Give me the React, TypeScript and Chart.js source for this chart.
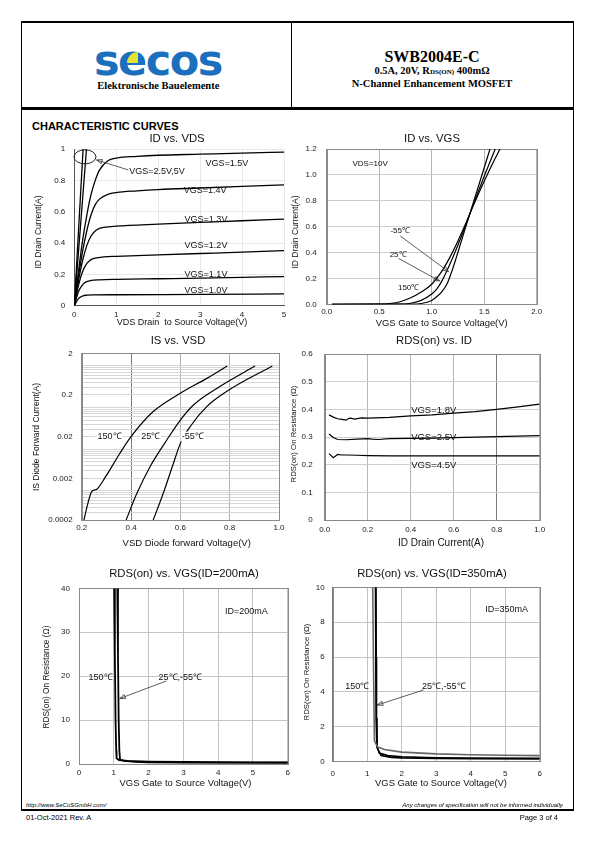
import React, { useEffect, useRef } from "react";
import { Chart, registerables } from "chart.js";

Chart.register(...registerables);

const SANS = '"Liberation Sans", Arial, Helvetica, sans-serif';
const SERIF = '"Liberation Serif", "Times New Roman", Times, serif';
Chart.defaults.font.family = SANS;

type Pt = [number, number];

/* ---------- 1. ID vs VDS ---------- */
const VDS_TICKS = [0, 1, 2, 3, 4, 5];
const ID_A_TICKS = [0, 0.2, 0.4, 0.6, 0.8, 1];
const ID_VGS_5V: Pt[] = [[0, 0], [0.21, 1]];
const ID_VGS_2V5: Pt[] = [[0, 0], [0.29, 1]];
const ID_VGS_1V5: Pt[] = [[0, 0], [0.1, 0.22], [0.2, 0.42], [0.3, 0.58], [0.4, 0.71], [0.5, 0.8], [0.6, 0.865], [0.8, 0.925], [1, 0.942], [1.5, 0.953], [2, 0.96], [3, 0.967], [4, 0.974], [5, 0.98]];
const ID_VGS_1V4: Pt[] = [[0, 0], [0.1, 0.19], [0.2, 0.35], [0.3, 0.48], [0.4, 0.58], [0.5, 0.645], [0.6, 0.68], [0.8, 0.71], [1, 0.722], [1.5, 0.733], [2, 0.741], [3, 0.751], [4, 0.761], [5, 0.771]];
const ID_VGS_1V3: Pt[] = [[0, 0], [0.1, 0.16], [0.2, 0.29], [0.3, 0.385], [0.4, 0.445], [0.5, 0.477], [0.6, 0.493], [0.8, 0.503], [1, 0.508], [2, 0.521], [3, 0.532], [4, 0.542], [5, 0.553]];
const ID_VGS_1V2: Pt[] = [[0, 0], [0.1, 0.13], [0.2, 0.22], [0.3, 0.27], [0.4, 0.294], [0.5, 0.304], [0.7, 0.311], [1, 0.315], [2, 0.324], [3, 0.333], [4, 0.342], [5, 0.352]];
const ID_VGS_1V1: Pt[] = [[0, 0], [0.1, 0.09], [0.2, 0.135], [0.3, 0.154], [0.4, 0.161], [0.6, 0.165], [1, 0.168], [2, 0.172], [3, 0.176], [4, 0.181], [5, 0.186]];
const ID_VGS_1V0: Pt[] = [[0, 0], [0.1, 0.045], [0.2, 0.062], [0.3, 0.067], [0.5, 0.069], [1, 0.07], [3, 0.072], [5, 0.075]];
const ID_VDS_LABELS = [
  { x: 3.64, y: 0.91, t: "VGS=1.5V" },
  { x: 1.31, y: 0.855, t: "VGS=2.5V,5V", align: "left" },
  { x: 3.12, y: 0.732, t: "VGS=1.4V" },
  { x: 3.14, y: 0.553, t: "VGS=1.3V" },
  { x: 3.14, y: 0.381, t: "VGS=1.2V" },
  { x: 3.14, y: 0.202, t: "VGS=1.1V" },
  { x: 3.14, y: 0.1, t: "VGS=1.0V" },
];

/* ---------- 2. ID vs VGS ---------- */
const VGS2_TICKS = [0, 0.5, 1, 1.5, 2];
const ID2_TICKS = [0, 0.2, 0.4, 0.6, 0.8, 1.0, 1.2];
const IDVGS_M55: Pt[] = [[0.05, 0], [0.8, 0.001], [0.9, 0.006], [1.0, 0.03], [1.05, 0.06], [1.1, 0.1], [1.15, 0.165], [1.2, 0.275], [1.3, 0.535], [1.4, 0.795], [1.5, 1.055], [1.555, 1.2]];
const IDVGS_25: Pt[] = [[0.05, 0], [0.7, 0.001], [0.8, 0.008], [0.9, 0.03], [1.0, 0.08], [1.05, 0.12], [1.1, 0.185], [1.2, 0.36], [1.3, 0.56], [1.4, 0.78], [1.5, 0.99], [1.605, 1.2]];
const IDVGS_150: Pt[] = [[0.05, 0], [0.5, 0.001], [0.6, 0.006], [0.7, 0.02], [0.8, 0.05], [0.9, 0.095], [1.0, 0.155], [1.1, 0.26], [1.2, 0.405], [1.3, 0.58], [1.4, 0.77], [1.5, 0.95], [1.6, 1.12], [1.65, 1.2]];
const IDVGS_LABELS = [
  { x: 0.414, y: 1.082, t: "VDS=10V" },
  { x: 0.7, y: 0.566, t: "-55℃" },
  { x: 0.68, y: 0.381, t: "25℃" },
  { x: 0.78, y: 0.124, t: "150℃" },
];

/* ---------- 3. IS vs VSD ---------- */
const VSD_TICKS = [0.2, 0.4, 0.6, 0.8, 1.0];
const IS_MAJOR = [0.0002, 0.002, 0.02, 0.2, 2];
const IS_LABELS = ["0.0002", "0.002", "0.02", "0.2", "2"];
const IS_150: Pt[] = [[0.209, 0.0002], [0.225, 0.0005], [0.24, 0.00095], [0.261, 0.0011], [0.295, 0.0021], [0.355, 0.008], [0.4, 0.02], [0.49, 0.08], [0.6, 0.22], [0.707, 0.5], [0.79, 0.99]];
const IS_25: Pt[] = [[0.38, 0.0002], [0.423, 0.00085], [0.477, 0.0038], [0.545, 0.0166], [0.6, 0.05], [0.653, 0.115], [0.76, 0.32], [0.903, 0.99]];
const IS_M55: Pt[] = [[0.49, 0.0002], [0.53, 0.00085], [0.572, 0.0046], [0.6, 0.0138], [0.64, 0.035], [0.707, 0.105], [0.8, 0.27], [0.973, 0.99]];
const IS_TEMP_LABELS = [
  { x: 0.313, y: 0.02, t: "150℃", bg: true },
  { x: 0.48, y: 0.02, t: "25℃", bg: true },
  { x: 0.65, y: 0.02, t: "-55℃", bg: true },
];

/* ---------- 4. RDS(on) vs ID ---------- */
const ID4_TICKS = [0, 0.2, 0.4, 0.6, 0.8, 1.0];
const RDS4_TICKS = [0, 0.1, 0.2, 0.3, 0.4, 0.5, 0.6];
const RDS_VGS18: Pt[] = [[0.02, 0.38], [0.04, 0.372], [0.06, 0.366], [0.08, 0.364], [0.1, 0.361], [0.11, 0.367], [0.12, 0.368], [0.14, 0.365], [0.17, 0.369], [0.2, 0.368], [0.3, 0.371], [0.4, 0.376], [0.5, 0.38], [0.6, 0.386], [0.7, 0.392], [0.8, 0.4], [0.9, 0.409], [1.0, 0.419]];
const RDS_VGS25: Pt[] = [[0.02, 0.311], [0.04, 0.298], [0.06, 0.291], [0.1, 0.29], [0.15, 0.292], [0.2, 0.294], [0.22, 0.292], [0.25, 0.291], [0.3, 0.294], [0.4, 0.295], [0.5, 0.296], [0.6, 0.298], [0.8, 0.301], [1.0, 0.305]];
const RDS_VGS45: Pt[] = [[0.02, 0.24], [0.04, 0.225], [0.06, 0.237], [0.08, 0.235], [0.1, 0.235], [0.15, 0.234], [0.2, 0.233], [0.3, 0.232], [0.4, 0.232], [0.6, 0.232], [0.8, 0.232], [1.0, 0.232]];
const RDS_ID_LABELS = [
  { x: 0.507, y: 0.3975, t: "VGS=1.8V" },
  { x: 0.507, y: 0.299, t: "VGS=2.5V" },
  { x: 0.507, y: 0.199, t: "VGS=4.5V" },
];

/* ---------- 5. RDS(on) vs VGS (ID=200mA) ---------- */
const VGS56_TICKS = [0, 1, 2, 3, 4, 5, 6];
const RDS5_TICKS = [0, 10, 20, 30, 40];
const RDS200_150: Pt[] = [[1.01, 40], [1.03, 25], [1.05, 10], [1.07, 3], [1.08, 1.3], [1.15, 0.9], [1.4, 0.7], [2, 0.55], [3, 0.45], [4, 0.4], [5, 0.38], [6, 0.36]];
const RDS200_25: Pt[] = [[1.1, 40], [1.12, 25], [1.14, 10], [1.16, 3], [1.18, 1.0], [1.3, 0.7], [1.6, 0.5], [2, 0.4], [3, 0.33], [4, 0.3], [6, 0.28]];
const RDS200_LABELS = [
  { x: 0.62, y: 19.7, t: "150℃" },
  { x: 2.91, y: 19.7, t: "25℃,-55℃" },
  { x: 4.81, y: 34.8, t: "ID=200mA" },
];

/* ---------- 6. RDS(on) vs VGS (ID=350mA) ---------- */
const RDS6_TICKS = [0, 2, 4, 6, 8, 10];
const RDS350_150: Pt[] = [[1.16, 10], [1.18, 6], [1.2, 2.5], [1.21, 1.2], [1.3, 0.85], [1.5, 0.7], [2, 0.55], [3, 0.45], [4, 0.4], [5, 0.37], [6, 0.35]];
const RDS350_25: Pt[] = [[1.24, 10], [1.25, 6], [1.26, 2.5], [1.28, 0.9], [1.35, 0.5], [1.6, 0.35], [2, 0.28], [3, 0.23], [4, 0.21], [6, 0.2]];
const RDS350_M55: Pt[] = [[1.25, 10], [1.26, 6], [1.27, 2.5], [1.29, 0.8], [1.4, 0.35], [1.7, 0.25], [2, 0.22], [3, 0.18], [4, 0.17], [6, 0.16]];
const RDS350_LABELS = [
  { x: 0.713, y: 4.3, t: "150℃" },
  { x: 3.22, y: 4.3, t: "25℃,-55℃" },
  { x: 5.04, y: 8.75, t: "ID=350mA" },
];

/* ---------- chart machinery ---------- */
type AxisSpec = {
  min: number;
  max: number;
  ticks: number[];
  fmt: (v: number) => string;
  log?: boolean;
  grid: (v: number) => string;
  pad: number;
  border: string;
  size?: number;
};
type SeriesSpec = { data: Pt[]; color?: string; width?: number; smooth?: boolean };
type TextAnn = { x: number; y: number; t: string; align?: string; bg?: boolean };
type Spec = {
  box: [number, number, number, number];
  area: [number, number, number, number];
  x: AxisSpec;
  y: AxisSpec;
  series: SeriesSpec[];
  title: { t: string; cx: number; cy: number };
  xTitle: { t: string; cx: number; cy: number; size: number };
  yTitle: { t: string; cx: number; cy: number; size: number };
  texts: TextAnn[];
  textSize: number;
  arrows?: { from: Pt; to: Pt }[];
  ellipse?: { c: Pt; rx: number; ry: number };
  frame?: string;
};

const fix1 = (v: number) => v.toFixed(1);
const plain = (v: number) => String(Math.round(v * 1000) / 1000);
const zeroFix1 = (v: number) => (Math.abs(v) < 1e-9 ? "0" : Math.abs(v - 1) < 1e-9 ? "1" : v.toFixed(1));
const near = (a: number, b: number) => Math.abs(a - b) < 1e-9;

function drawArrow(ctx: CanvasRenderingContext2D, x1: number, y1: number, x2: number, y2: number) {
  ctx.beginPath();
  ctx.moveTo(x1, y1);
  ctx.lineTo(x2, y2);
  ctx.stroke();
  const a = Math.atan2(y2 - y1, x2 - x1);
  const L = 6, w = 0.38;
  ctx.beginPath();
  ctx.moveTo(x2 - L * Math.cos(a - w), y2 - L * Math.sin(a - w));
  ctx.lineTo(x2, y2);
  ctx.lineTo(x2 - L * Math.cos(a + w), y2 - L * Math.sin(a + w));
  ctx.closePath();
  ctx.stroke();
}

function overlayPlugin(spec: Spec) {
  return {
    id: "overlay",
    beforeDatasetsDraw(chart: any) {
      if (!spec.frame) return;
      const { left, top, right, bottom } = chart.chartArea;
      const ctx = chart.ctx;
      ctx.save();
      ctx.strokeStyle = spec.frame;
      ctx.lineWidth = 1;
      ctx.strokeRect(Math.round(left) + 0.5, Math.round(top) + 0.5, Math.round(right - left), Math.round(bottom - top));
      ctx.restore();
    },
    afterDatasetsDraw(chart: any) {
      const ctx: CanvasRenderingContext2D = chart.ctx;
      const xs = chart.scales.x, ys = chart.scales.y;
      const ox = spec.box[0], oy = spec.box[1];
      ctx.save();
      ctx.fillStyle = "#111";
      ctx.textBaseline = "middle";
      ctx.font = `11.3px ${SANS}`;
      ctx.textAlign = "center";
      ctx.fillText(spec.title.t, spec.title.cx - ox, spec.title.cy - oy);
      ctx.font = `${spec.xTitle.size}px ${SANS}`;
      ctx.fillText(spec.xTitle.t, spec.xTitle.cx - ox, spec.xTitle.cy - oy);
      ctx.save();
      ctx.font = `${spec.yTitle.size}px ${SANS}`;
      ctx.translate(spec.yTitle.cx - ox, spec.yTitle.cy - oy);
      ctx.rotate(-Math.PI / 2);
      ctx.fillText(spec.yTitle.t, 0, 0);
      ctx.restore();
      ctx.font = `${spec.textSize}px ${SANS}`;
      for (const t of spec.texts) {
        const px = xs.getPixelForValue(t.x), py = ys.getPixelForValue(t.y);
        const align = (t.align || "center") as CanvasTextAlign;
        ctx.textAlign = align;
        if (t.bg) {
          const tw = ctx.measureText(t.t).width;
          const lx = align === "left" ? px : px - tw / 2;
          ctx.fillStyle = "#fff";
          ctx.fillRect(lx - 1, py - spec.textSize * 0.55, tw + 2, spec.textSize * 1.1);
          ctx.fillStyle = "#111";
        }
        ctx.fillText(t.t, px, py);
      }
      ctx.strokeStyle = "#333";
      ctx.lineWidth = 0.8;
      for (const a of spec.arrows || []) {
        drawArrow(ctx, xs.getPixelForValue(a.from[0]), ys.getPixelForValue(a.from[1]), xs.getPixelForValue(a.to[0]), ys.getPixelForValue(a.to[1]));
      }
      if (spec.ellipse) {
        const e = spec.ellipse;
        ctx.strokeStyle = "#222";
        ctx.lineWidth = 1;
        ctx.beginPath();
        ctx.ellipse(xs.getPixelForValue(e.c[0]), ys.getPixelForValue(e.c[1]), e.rx, e.ry, 0, 0, Math.PI * 2);
        ctx.stroke();
      }
      ctx.restore();
    },
  };
}

function buildConfig(spec: Spec): any {
  const [bl, bt, bw, bh] = spec.box;
  const [al, at, ar, ab] = spec.area;
  const yW = al - bl;
  const padTop = at - bt;
  const padRight = bl + bw - ar;
  const xH = bt + bh - ab;
  const axis = (a: AxisSpec, isX: boolean) => ({
    type: a.log ? "logarithmic" : "linear",
    min: a.min,
    max: a.max,
    afterBuildTicks: (sc: any) => {
      sc.ticks = a.ticks.map((v) => ({ value: v }));
    },
    afterFit: (sc: any) => {
      if (isX) sc.height = xH;
      else sc.width = yW;
    },
    ticks: {
      autoSkip: false,
      maxRotation: 0,
      minRotation: 0,
      padding: a.pad,
      color: "#1a1a1a",
      font: { size: a.size || 8, family: SANS },
      callback: (v: number) => a.fmt(v),
    },
    grid: {
      drawTicks: false,
      lineWidth: 1,
      color: (ctx: any) => a.grid(ctx.tick ? ctx.tick.value : NaN),
    },
    border: { display: true, color: a.border, width: 1 },
  });
  return {
    type: "line",
    data: {
      datasets: spec.series.map((s) => ({
        data: s.data.map(([x, y]) => ({ x, y })),
        borderColor: s.color || "#000",
        backgroundColor: s.color || "#000",
        borderWidth: s.width || 1.2,
        pointRadius: 0,
        fill: false,
        tension: 0,
        cubicInterpolationMode: s.smooth ? "monotone" : "default",
      })),
    },
    options: {
      responsive: false,
      animation: false,
      events: [],
      layout: { padding: { left: 0, top: padTop, right: padRight, bottom: 0 } },
      plugins: { legend: { display: false }, tooltip: { enabled: false }, title: { display: false } },
      scales: { x: axis(spec.x, true), y: axis(spec.y, false) },
    },
    plugins: [overlayPlugin(spec)],
  };
}

function ChartBox({ spec }: { spec: Spec }) {
  const ref = useRef<HTMLCanvasElement>(null);
  useEffect(() => {
    const chart = new Chart(ref.current as HTMLCanvasElement, buildConfig(spec));
    return () => chart.destroy();
  }, []);
  const [l, t, w, h] = spec.box;
  return <canvas ref={ref} width={w} height={h} style={{ position: "absolute", left: l, top: t, width: w, height: h }} />;
}

/* ---------- chart specs ---------- */
const IS_GRID: number[] = [];
for (let e = -4; e <= 0; e++) {
  for (let k = 1; k <= 9; k++) {
    const v = +(k * Math.pow(10, e)).toPrecision(3);
    if (v >= 0.0002 - 1e-12 && v <= 2 + 1e-9) IS_GRID.push(v);
  }
}

const SPEC1: Spec = {
  box: [22, 128, 270, 202],
  area: [74.3, 149, 284, 305.7],
  x: { min: 0, max: 5, ticks: VDS_TICKS, fmt: plain, grid: () => "#e8e8e8", pad: 4, border: "#555" },
  y: { min: 0, max: 1, ticks: ID_A_TICKS, fmt: zeroFix1, grid: () => "#e8e8e8", pad: 9, border: "#555" },
  series: [ID_VGS_5V, ID_VGS_2V5, ID_VGS_1V5, ID_VGS_1V4, ID_VGS_1V3, ID_VGS_1V2, ID_VGS_1V1, ID_VGS_1V0].map((d) => ({ data: d, smooth: true, width: 1.3 })),
  title: { t: "ID vs. VDS", cx: 177, cy: 138.5 },
  xTitle: { t: "VDS Drain  to Source Voltage(V)", cx: 182, cy: 323, size: 9 },
  yTitle: { t: "ID Drain Current(A)", cx: 39, cy: 232, size: 8.5 },
  texts: ID_VDS_LABELS,
  textSize: 9,
  arrows: [{ from: [1.29, 0.866], to: [0.53, 0.93] }],
  ellipse: { c: [0.255, 0.95], rx: 11, ry: 7 },
};

const SPEC2: Spec = {
  box: [290, 128, 283, 202],
  area: [326.7, 149, 536.7, 304.3],
  x: { min: 0, max: 2, ticks: VGS2_TICKS, fmt: fix1, grid: () => "#b4b4b4", pad: 3, border: "#8a8a8a" },
  y: { min: 0, max: 1.2, ticks: ID2_TICKS, fmt: fix1, grid: () => "#cccccc", pad: 10, border: "#8a8a8a" },
  series: [IDVGS_M55, IDVGS_25, IDVGS_150].map((d) => ({ data: d, smooth: true, width: 1.2 })),
  title: { t: "ID vs. VGS", cx: 432, cy: 138.5 },
  xTitle: { t: "VGS Gate to Source Voltage(V)", cx: 441.7, cy: 323, size: 9.4 },
  yTitle: { t: "ID Drain Current(A)", cx: 296, cy: 232, size: 8.5 },
  texts: IDVGS_LABELS,
  textSize: 8,
  arrows: [
    { from: [0.7, 0.528], to: [1.161, 0.252] },
    { from: [0.684, 0.355], to: [1.075, 0.18] },
  ],
  frame: "#8a8a8a",
};

const SPEC3: Spec = {
  box: [22, 330, 270, 222],
  area: [81.7, 353.3, 279, 520],
  x: { min: 0.2, max: 1.0, ticks: VSD_TICKS, fmt: fix1, grid: (v) => (near(v, 0.4) ? "#7a7a7a" : "#b0b0b0"), pad: 3, border: "#8a8a8a" },
  y: {
    min: 0.0002,
    max: 2,
    log: true,
    ticks: IS_GRID,
    fmt: (v) => {
      const i = IS_MAJOR.findIndex((m) => Math.abs(m - v) / m < 1e-6);
      return i >= 0 ? IS_LABELS[i] : "";
    },
    grid: () => "#d6d6d6",
    pad: 9,
    border: "#8a8a8a",
  },
  series: [IS_150, IS_25, IS_M55].map((d) => ({ data: d, smooth: true, width: 1.2 })),
  title: { t: "IS vs. VSD", cx: 178, cy: 341 },
  xTitle: { t: "VSD Diode forward Voltage(V)", cx: 186.7, cy: 543.3, size: 9.5 },
  yTitle: { t: "IS Diode Forward Current(A)", cx: 37, cy: 437, size: 8.5 },
  texts: IS_TEMP_LABELS,
  textSize: 9,
  frame: "#8a8a8a",
};

const SPEC4: Spec = {
  box: [290, 330, 283, 222],
  area: [324.7, 354, 539.7, 520],
  x: { min: 0, max: 1, ticks: ID4_TICKS, fmt: fix1, grid: (v) => (near(v, 0.8) ? "#7a7a7a" : "#b8b8b8"), pad: 5, border: "#8a8a8a" },
  y: { min: 0, max: 0.6, ticks: RDS4_TICKS, fmt: zeroFix1, grid: () => "#cfcfcf", pad: 12, border: "#8a8a8a" },
  series: [RDS_VGS18, RDS_VGS25, RDS_VGS45].map((d) => ({ data: d, width: 1.2 })),
  title: { t: "RDS(on) vs. ID", cx: 434, cy: 341 },
  xTitle: { t: "ID Drain Current(A)", cx: 441, cy: 543, size: 10 },
  yTitle: { t: "RDS(on) On Resistance (Ω)", cx: 294, cy: 434, size: 7.8 },
  texts: RDS_ID_LABELS,
  textSize: 9.5,
  frame: "#8a8a8a",
};

const SPEC5: Spec = {
  box: [22, 560, 272, 235],
  area: [79, 588.3, 288.7, 764],
  x: { min: 0, max: 6, ticks: VGS56_TICKS, fmt: plain, grid: () => "#c4c4c4", pad: 4, border: "#777" },
  y: { min: 0, max: 40, ticks: RDS5_TICKS, fmt: plain, grid: () => "#c4c4c4", pad: 9, border: "#777" },
  series: [
    { data: RDS200_150, width: 1.8 },
    { data: RDS200_25, width: 1.8 },
  ],
  title: { t: "RDS(on) vs. VGS(ID=200mA)", cx: 184, cy: 574 },
  xTitle: { t: "VGS Gate to Source Voltage(V)", cx: 185.5, cy: 783.3, size: 9.4 },
  yTitle: { t: "RDS(on) On Resistance (Ω)", cx: 47, cy: 677, size: 8.3 },
  texts: RDS200_LABELS,
  textSize: 9,
  arrows: [{ from: [2.51, 18.9], to: [1.17, 14.9] }],
  frame: "#8a8a8a",
};

const SPEC6: Spec = {
  box: [290, 560, 283, 235],
  area: [332.7, 587.3, 539.7, 761.7],
  x: { min: 0, max: 6, ticks: VGS56_TICKS, fmt: plain, grid: () => "#c4c4c4", pad: 7, border: "#777" },
  y: { min: 0, max: 10, ticks: RDS6_TICKS, fmt: plain, grid: () => "#c4c4c4", pad: 8, border: "#777" },
  series: [
    { data: RDS350_150, width: 1.6, color: "#666" },
    { data: RDS350_25, width: 1.6 },
    { data: RDS350_M55, width: 1.6 },
  ],
  title: { t: "RDS(on) vs. VGS(ID=350mA)", cx: 432, cy: 574 },
  xTitle: { t: "VGS Gate to Source Voltage(V)", cx: 441, cy: 783, size: 9.4 },
  yTitle: { t: "RDS(on) On Resistance (Ω)", cx: 307, cy: 672, size: 7.8 },
  texts: RDS350_LABELS,
  textSize: 9,
  arrows: [{ from: [2.63, 4.11], to: [1.29, 3.25] }],
  frame: "#8a8a8a",
};

/* ---------- page ---------- */
function T(p: { x: number; y: number; s: number; children: React.ReactNode; b?: boolean; i?: boolean; f?: string; a?: "l" | "c" | "r" }) {
  const tx = p.a === "c" ? "-50%" : p.a === "r" ? "-100%" : "0";
  return (
    <div
      style={{
        position: "absolute",
        left: p.x,
        top: p.y,
        transform: `translate(${tx}, -50%)`,
        fontSize: p.s,
        lineHeight: 1,
        whiteSpace: "nowrap",
        fontWeight: p.b ? "bold" : "normal",
        fontStyle: p.i ? "italic" : "normal",
        fontFamily: p.f || SANS,
        color: "#000",
      }}
    >
      {p.children}
    </div>
  );
}

const line = (l: number, t: number, w: number, h: number) => (
  <div style={{ position: "absolute", left: l, top: t, width: w, height: h, background: "#000" }} />
);

export default function App() {
  return (
    <div style={{ position: "absolute", left: 0, top: 0, width: 595, height: 842, background: "#fff", overflow: "hidden" }}>
      {line(21, 21, 553, 2)}
      {line(21, 21, 1, 790)}
      {line(573, 21, 1, 790)}
      {line(21, 107, 553, 2.5)}
      {line(291, 21, 1, 87)}
      {line(21, 809, 553, 2)}

      <div
        style={{
          position: "absolute",
          left: 94,
          top: 38.6,
          fontFamily: '"DejaVu Sans", sans-serif',
          fontWeight: "bold",
          fontSize: 43,
          lineHeight: "43px",
          letterSpacing: -1.5,
          color: "#1b6fbd",
        }}
      >
        secos
      </div>
      <div style={{ position: "absolute", left: 127, top: 52, width: 11, height: 11, background: "#e3e235", borderTopLeftRadius: "100%" }} />
      <T x={158.3} y={85.5} s={10.5} b f={SERIF} a="c">
        Elektronische Bauelemente
      </T>

      <T x={432} y={57} s={16} b f={SERIF} a="c">
        SWB2004E-C
      </T>
      <T x={432} y={71} s={10.5} b f={SERIF} a="c">
        0.5A, 20V, R<span style={{ fontSize: 7 }}>DS(ON)</span> 400mΩ
      </T>
      <T x={432} y={83.5} s={10.5} b f={SERIF} a="c">
        N-Channel Enhancement MOSFET
      </T>

      <T x={32} y={125.7} s={11} b>
        CHARACTERISTIC CURVES
      </T>

      <ChartBox spec={SPEC1} />
      <ChartBox spec={SPEC2} />
      <ChartBox spec={SPEC3} />
      <ChartBox spec={SPEC4} />
      <ChartBox spec={SPEC5} />
      <ChartBox spec={SPEC6} />

      <T x={26} y={804.5} s={6} i>
        http://www.SeCoSGmbH.com/
      </T>
      <T x={564} y={804.5} s={6} i a="r">
        Any changes of specification will not be informed individually.
      </T>
      <T x={26} y={817.5} s={7.5}>
        01-Oct-2021 Rev. A
      </T>
      <T x={558} y={817.5} s={7.5} a="r">
        Page 3 of 4
      </T>
    </div>
  );
}
